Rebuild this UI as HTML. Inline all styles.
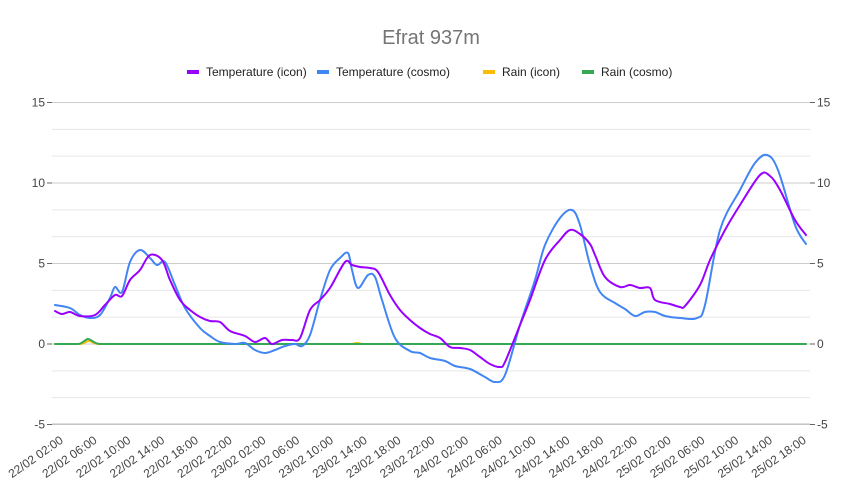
<!DOCTYPE html>
<html><head><meta charset="utf-8"><style>
body{margin:0;background:#fff;}
svg{font-family:"Liberation Sans",Arial,sans-serif;}
</style></head><body>
<svg id="s" width="862" height="494" xmlns="http://www.w3.org/2000/svg">
<rect width="862" height="494" fill="#fff"/>
<text x="431" y="44" text-anchor="middle" font-size="20" fill="#757575">Efrat 937m</text>
<g font-size="12" fill="#222">
<rect x="187" y="70" width="12" height="4" fill="#9900ff"/><text x="206" y="76">Temperature (icon)</text>
<rect x="317" y="70" width="12" height="4" fill="#4285f4"/><text x="336" y="76">Temperature (cosmo)</text>
<rect x="483" y="70" width="12" height="4" fill="#fbbc04"/><text x="502" y="76">Rain (icon)</text>
<rect x="582" y="70" width="12" height="4" fill="#34a853"/><text x="601" y="76">Rain (cosmo)</text>
</g>
<g id="grid" stroke="#e0e0e0" stroke-width="1"></g>
<g id="lab" font-size="12" fill="#444"></g>
<g id="lines" fill="none" stroke-width="2" stroke-linejoin="round" stroke-linecap="round"></g>
</svg>
<script>
var ns="http://www.w3.org/2000/svg";
function el(p,t,a,txt){var e=document.createElementNS(ns,t);for(var k in a)e.setAttribute(k,a[k]);if(txt!=null)e.textContent=txt;document.getElementById(p).appendChild(e);return e;}
var y0=344,pu=16.1;
for(var i=-3;i<=9;i++){var y=y0-i*pu*5/3;el("grid","line",{x1:52,x2:810,y1:y,y2:y,stroke:(i%3==0)?"#cccccc":"#e6e6e6"});}
el("grid","line",{x1:52,x2:810,y1:424,y2:424,stroke:"#bbbbbb"});
[15,10,5,0,-5].forEach(function(v){var yy=y0-v*pu;el("grid","line",{x1:47,x2:52,y1:yy,y2:yy,stroke:"#666"});el("grid","line",{x1:810,x2:815,y1:yy,y2:yy,stroke:"#666"});var y=yy+4;el("lab","text",{x:45,y:y,"text-anchor":"end"},v);el("lab","text",{x:817,y:y},v);});
var days=["22/02","23/02","24/02","25/02"],hrs=["02:00","06:00","10:00","14:00","18:00","22:00"];var n=0;
for(var d=0;d<4;d++)for(var h=0;h<6;h++){if(d==3&&h==5)break;var x=64+n*33.77;el("lab","text",{x:x,y:442,"text-anchor":"end",transform:"rotate(-35 "+x+" 442)"},days[d]+" "+hrs[h]);n++;}
function path(pts){var p="M"+pts[0][0]+","+pts[0][1];for(var i=0;i<pts.length-1;i++){var a=pts[i-1]||pts[i],b=pts[i],c=pts[i+1],d=pts[i+2]||c;var c1x=b[0]+(c[0]-a[0])/6,c1y=b[1]+(c[1]-a[1])/6,c2x=c[0]-(d[0]-b[0])/6,c2y=c[1]-(d[1]-b[1])/6;p+=" C"+c1x+","+c1y+" "+c2x+","+c2y+" "+c[0]+","+c[1];}return p;}
function P(a){var r=[];for(var i=0;i<a.length;i+=2)r.push([a[i],a[i+1]]);return r;}
var purple=P([55,311,62,314,70,312,80,316,95,315,105,305,115,295,122,296,130,280,140,270,150,255,162,260,170,280,180,300,190,310,200,317,210,321,220,322,230,331,245,336,255,342,265,338,272,344,282,340,292,340,300,338,310,310,320,300,330,288,345,262,352,265,360,267,370,268,378,272,390,295,400,310,410,320,420,328,430,334,440,338,450,347,460,348,470,350,480,357,490,364,500,367,505,362,520,325,530,300,545,260,560,240,570,230,580,234,590,244,595,255,605,277,620,287,630,285,640,288,650,288,655,300,670,304,680,307,685,306,700,285,710,260,725,230,740,205,760,175,770,176,780,190,795,220,806,235]);
var blue=P([55,305,70,308,80,315,90,318,100,315,110,298,115,287,122,292,130,262,140,250,150,258,157,265,165,262,175,285,185,308,200,328,210,336,220,342,235,344,245,343,255,350,265,353,275,350,285,346,295,344,302,346,310,335,320,300,330,270,340,258,348,253,352,270,358,288,368,275,375,277,382,300,395,338,410,351,420,353,430,358,445,361,455,366,470,369,485,377,495,382,505,375,520,325,535,280,545,245,560,218,572,210,580,225,590,265,600,292,615,303,625,309,635,316,645,312,655,312,665,316,680,318,697,318,705,305,720,230,740,190,755,163,767,155,778,170,795,225,806,244]);
el("lines","path",{d:"M55,344 L80,344 C84,344 86,341 89,341 C92,341 94,344 98,344 L350,344 C354,344 355,343 357,343 C359,343 360,344 364,344 L806,344",stroke:"#fbbc04"});
el("lines","path",{d:"M55,344 L78,344 C83,344 85,339 88,339 C91,339 94,344 100,344 L806,344",stroke:"#34a853"});
el("lines","path",{d:path(blue),stroke:"#4285f4"});
el("lines","path",{d:path(purple),stroke:"#9900ff"});
</script>
</body></html>
